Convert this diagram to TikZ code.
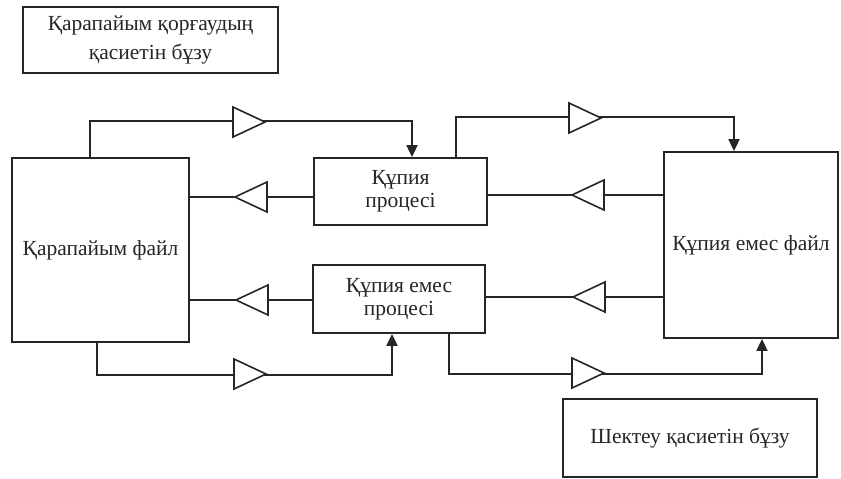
\documentclass[tikz,border=0pt]{standalone}
\usepackage{fontspec}
\setmainfont{Liberation Serif}
\usetikzlibrary{arrows.meta}

\tikzset{
  blk/.style={draw, line width=1.8pt, inner sep=0pt, align=center, fill=white},
  link/.style={line width=1.8pt},
  go/.style={link, -{Triangle[length=12pt,width=11pt]}},
  ampr/.pic={\draw[line width=1.6pt, fill=white] (-16,-15) -- (16,0) -- (-16,15) -- cycle;},
  ampl/.pic={\draw[line width=1.6pt, fill=white] (16,-15) -- (-16,0) -- (16,15) -- cycle;}
}

\begin{document}
\begin{tikzpicture}[x=1pt, y=-1pt, color=black!85, font=\fontsize{21.5}{23}\selectfont]
\useasboundingbox (0,0) rectangle (841,479);

% blocks
\node[blk, minimum width=255, minimum height=66, font=\fontsize{21.5}{29}\selectfont] (brkone) at (150.5,40) {Қарапайым қорғаудың\\қасиетін бұзу};
\node[blk, minimum width=177, minimum height=184] (plainfile) at (100.5,250) {Қарапайым файл};
\node[blk, minimum width=173, minimum height=67] (secproc) at (400.5,191.5) {Құпия\\процесі};
\node[blk, minimum width=172, minimum height=68] (nsecproc) at (399,299) {Құпия емес\\процесі};
\node[blk, minimum width=174, minimum height=186] (nsecfile) at (751,245) {Құпия емес файл};
\node[blk, minimum width=254, minimum height=78] (brktwo) at (690,438) {Шектеу қасиетін бұзу};

% upper loop
\draw[go] ([xshift=-10.5]plainfile.north) -- ++(0,-36) -| ([xshift=11.5]secproc.north);
\draw[link] ([yshift=-5.5]secproc.west) coordinate (s1) -- (s1 -| plainfile.east);
\draw[go] ([xshift=55.5]secproc.north) -- ++(0,-40) -| ([xshift=-17]nsecfile.north);
\draw[link] ([yshift=50]nsecfile.west) coordinate (s2) -- (s2 -| secproc.east);

% lower loop
\draw[link] ([yshift=-1]nsecproc.west) coordinate (s3) -- (s3 -| plainfile.east);
\draw[go] ([xshift=-3.5]plainfile.south) -- ++(0,32) -| ([xshift=-7]nsecproc.south);
\draw[link] ([yshift=-52]nsecfile.west) coordinate (s4) -- (s4 -| nsecproc.east);
\draw[go] ([xshift=50]nsecproc.south) -- ++(0,40) -| ([xshift=11]nsecfile.south);

% triangles
\pic at (249,122) {ampr};
\pic at (251,197) {ampl};
\pic at (585,118) {ampr};
\pic at (588,195) {ampl};
\pic at (252,300) {ampl};
\pic at (250,374) {ampr};
\pic at (589,297) {ampl};
\pic at (588,373) {ampr};
\end{tikzpicture}
\end{document}
